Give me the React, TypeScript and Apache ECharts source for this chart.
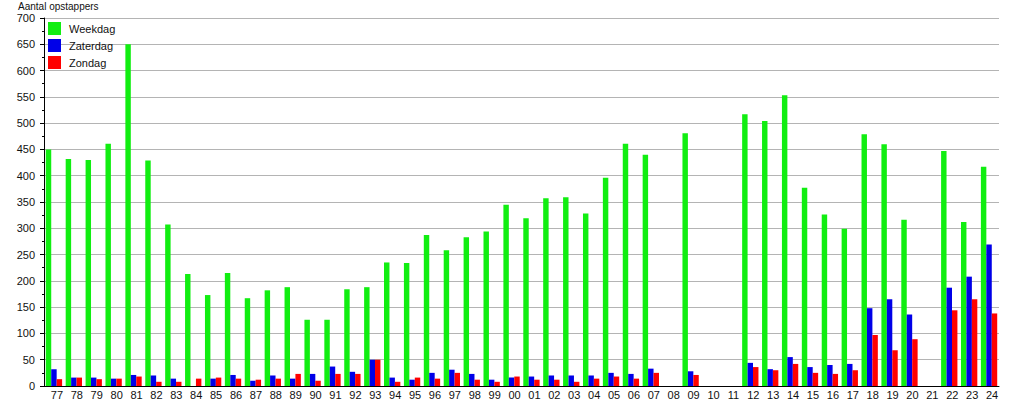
import React, { useEffect, useRef } from "react";
import * as echarts from "echarts";

const categories = [
  "77","78","79","80","81","82","83","84","85","86","87","88","89","90","91","92","93","94","95","96","97","98","99",
  "00","01","02","03","04","05","06","07","08","09","10","11","12","13","14","15","16","17","18","19","20","21","22","23","24",
];

const weekdag = [
  450, 432, 430, 461, 650, 429, 307, 213, 173, 215, 167, 182, 188, 126, 126, 184, 188, 235, 234, 287, 258, 283, 294,
  345, 319, 357, 359, 328, 396, 461, 440, 0, 481, 0, 0, 517, 504, 553, 377, 326, 299, 479, 460, 316, 0, 447, 312, 417,
];

const zaterdag = [
  32, 16, 16, 14, 21, 20, 14, 0, 14, 21, 10, 20, 14, 23, 37, 27, 50, 16, 12, 25, 31, 23, 12,
  16, 18, 20, 20, 20, 25, 23, 33, 0, 28, 0, 0, 44, 32, 55, 36, 40, 42, 148, 165, 136, 0, 187, 208, 269,
];

const zondag = [
  13, 16, 13, 14, 18, 8, 8, 14, 16, 14, 12, 14, 23, 10, 23, 23, 50, 8, 16, 14, 25, 12, 8,
  18, 12, 12, 8, 14, 18, 14, 25, 0, 21, 0, 0, 36, 30, 42, 25, 23, 30, 97, 68, 89, 0, 144, 165, 138,
];

const seriesNames = ["Weekdag", "Zaterdag", "Zondag"];
const seriesColors = ["#11ee11", "#0000e8", "#ff0000"];

const FONT = "'Liberation Sans', Arial, sans-serif";

export default function App() {
  const ref = useRef<HTMLDivElement>(null);

  useEffect(() => {
    if (!ref.current) return;
    const chart = echarts.init(ref.current, undefined, { renderer: "svg" });
    const dataSets = [weekdag, zaterdag, zondag];
    chart.setOption({
      animation: false,
      backgroundColor: "#ffffff",
      textStyle: { fontFamily: FONT },
      title: {
        text: "Aantal opstappers",
        left: 18,
        top: 1,
        padding: 0,
        textStyle: { fontSize: 10, fontWeight: "normal", color: "#111", fontFamily: FONT },
      },
      legend: {
        orient: "vertical",
        left: 48,
        top: 22,
        padding: 0,
        itemWidth: 13,
        itemHeight: 13,
        itemGap: 4,
        icon: "rect",
        textStyle: { fontSize: 11, color: "#111", fontFamily: FONT, padding: [0, 0, 0, 3] },
        data: seriesNames,
      },
      grid: { left: 44, right: 16, top: 18, bottom: 13, containLabel: false },
      xAxis: {
        type: "category",
        data: categories,
        boundaryGap: true,
        axisLine: { show: true, lineStyle: { color: "#000", width: 1 } },
        axisTick: { show: false },
        axisLabel: {
          interval: 0,
          fontSize: 11,
          color: "#111",
          fontFamily: FONT,
          margin: 3,
          padding: [0, 0, 0, 6],
        },
        splitLine: { show: false },
      },
      yAxis: {
        type: "value",
        min: 0,
        max: 700,
        interval: 50,
        axisLine: { show: true, lineStyle: { color: "#000", width: 1 } },
        axisTick: { show: true, length: 4, lineStyle: { color: "#000" } },
        minorTick: { show: true, splitNumber: 2, length: 2, lineStyle: { color: "#000" } },
        axisLabel: { fontSize: 11, color: "#111", fontFamily: FONT, margin: 9 },
        splitLine: { show: true, lineStyle: { color: "#b4b4b4", width: 1 } },
      },
      series: seriesNames.map((name, i) => ({
        name,
        type: "bar",
        data: dataSets[i],
        itemStyle: { color: seriesColors[i] },
        barGap: "0%",
        barCategoryGap: "18%",
      })),
    });
    return () => chart.dispose();
  }, []);

  return <div ref={ref} style={{ width: 1015, height: 400, position: "absolute", left: 0, top: 0 }} />;
}
